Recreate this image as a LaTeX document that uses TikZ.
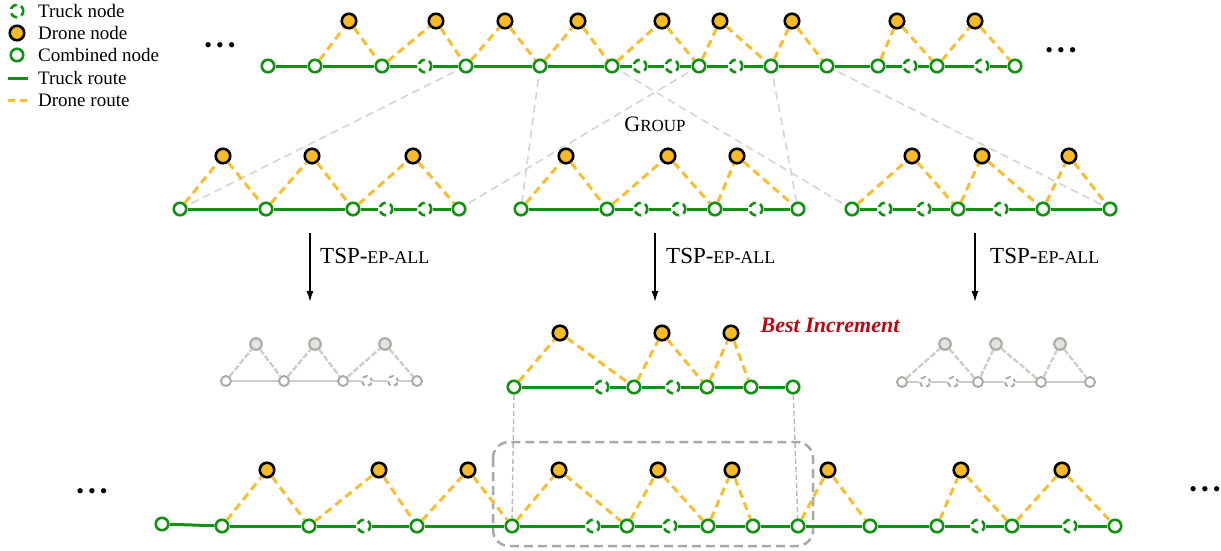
\documentclass[tikz,border=0pt]{standalone}
\usepackage{fontspec}
\setmainfont{Liberation Serif}
\usetikzlibrary{arrows.meta,backgrounds}

\definecolor{tgreen}{RGB}{18,146,18}
\definecolor{dfill}{RGB}{247,187,40}
\definecolor{dline}{RGB}{247,190,50}
\definecolor{glink}{RGB}{214,214,214}
\definecolor{fborder}{RGB}{172,172,166}
\definecolor{fline}{RGB}{206,206,200}
\definecolor{fdfill}{RGB}{228,228,225}
\definecolor{boxgray}{RGB}{168,168,168}
\definecolor{bestred}{RGB}{188,8,20}

\tikzset{
  comb/.style={circle,draw=tgreen,line width=2.6pt,fill=white,minimum size=12.5pt,inner sep=0pt},
  truckn/.style={comb,dash pattern=on 7.5pt off 4.5pt,dash phase=2pt},
  drone/.style={circle,draw=black,line width=2.6pt,fill=dfill,minimum size=14.5pt,inner sep=0pt},
  troute/.style={draw=tgreen,line width=3pt},
  droute/.style={draw=dline,line width=3pt,dash pattern=on 8pt off 5pt},
  fcomb/.style={circle,draw=fborder,line width=2pt,fill=white,minimum size=10pt,inner sep=0pt},
  ftruck/.style={fcomb,dash pattern=on 5pt off 3.5pt,dash phase=1.5pt},
  fdrone/.style={circle,draw=fborder,line width=2.2pt,fill=fdfill,minimum size=11.5pt,inner sep=0pt},
  froute/.style={draw=fline,line width=2.4pt},
  fdroute/.style={draw=fline,line width=2.4pt,dash pattern=on 6pt off 2pt},
  grouplink/.style={draw=glink,line width=1.7pt,dash pattern=on 8pt off 5pt},
  keeplink/.style={draw=boxgray!80,line width=1.4pt,dash pattern=on 5pt off 3pt},
  legtext/.style={anchor=west,inner sep=0pt,font=\fontsize{19}{19}\selectfont},
  dots/.style={inner sep=0pt,font=\fontsize{22}{22}\selectfont},
  steparrow/.style={-{Latex[length=11pt,width=7pt]},line width=1.5pt,draw=black},
  steplabel/.style={anchor=west,inner sep=0pt},
}

\newcommand{\tspname}{{\fontsize{23}{23}\selectfont TSP-}{\fontsize{18}{18}\selectfont EP-ALL}}
\newcommand{\threedots}{\textbullet\hspace{4pt}\textbullet\hspace{4pt}\textbullet}

\begin{document}
\begin{tikzpicture}[x=1pt,y=-1pt]
\useasboundingbox (0,0) rectangle (1221,550);

% ---------- legend ----------
\node[truckn] (lg1) at (17,11) {};
\node[drone]  (lg2) at (17,33) {};
\node[comb]   (lg3) at (17,55) {};
\coordinate (lg4a) at (8,78);  \coordinate (lg4b) at (28,78);
\coordinate (lg5a) at (8,100); \coordinate (lg5b) at (29,100);
\draw[troute] (lg4a) -- (lg4b);
\draw[droute,dash pattern=on 7pt off 5pt] (lg5a) -- (lg5b);
\node[legtext] (lt1) at (38,11) {Truck node};
\node[legtext] (lt2) at (38,33) {Drone node};
\node[legtext] (lt3) at (38,55) {Combined node};
\node[legtext] (lt4) at (38,78) {Truck route};
\node[legtext] (lt5) at (38,100) {Drone route};

% ---------- full route (top) ----------
\foreach \x/\s [count=\i] in {268/comb,315/comb,382/comb,425/truckn,466/comb,540/comb,
  612/comb,640/truckn,672/truckn,699/comb,736/truckn,771/comb,827/comb,878/comb,
  910/truckn,937/comb,982/truckn,1015/comb}
  \node[\s] (A\i) at (\x,66) {};
\foreach \i in {1,...,17} {
  \pgfmathtruncatemacro\j{\i+1}
  \draw[troute] (A\i) -- (A\j);
}
\foreach \x/\a/\b [count=\k] in {349/2/3,436/3/5,505/5/6,578/6/7,662/7/10,
  720/10/12,792/12/13,897/14/16,975/16/18} {
  \node[drone] (AD\k) at (\x,21) {};
  \draw[droute] (A\a) -- (AD\k) -- (A\b);
}
\node[dots] (dotsA) at (220,48) {\threedots};
\node[dots] (dotsB) at (1061,53) {\threedots};

% ---------- groups ----------
\foreach \x/\s [count=\i] in {180/comb,266/comb,353/comb,386/truckn,425/truckn,459/comb}
  \node[\s] (B\i) at (\x,209) {};
\foreach \i in {1,...,5} {\pgfmathtruncatemacro\j{\i+1}\draw[troute] (B\i) -- (B\j);}
\foreach \x/\a/\b [count=\k] in {223/1/2,312/2/3,413/3/6} {
  \node[drone] (BD\k) at (\x,156) {};
  \draw[droute] (B\a) -- (BD\k) -- (B\b);
}

\foreach \x/\s [count=\i] in {521/comb,607/comb,641/truckn,679/truckn,715/comb,756/truckn,798/comb}
  \node[\s] (C\i) at (\x,209) {};
\foreach \i in {1,...,6} {\pgfmathtruncatemacro\j{\i+1}\draw[troute] (C\i) -- (C\j);}
\foreach \x/\a/\b [count=\k] in {566/1/2,668/2/5,737/5/7} {
  \node[drone] (CD\k) at (\x,156) {};
  \draw[droute] (C\a) -- (CD\k) -- (C\b);
}

\foreach \x/\s [count=\i] in {852/comb,885/truckn,924/truckn,958/comb,1001/truckn,1043/comb,1110/comb}
  \node[\s] (D\i) at (\x,209) {};
\foreach \i in {1,...,6} {\pgfmathtruncatemacro\j{\i+1}\draw[troute] (D\i) -- (D\j);}
\foreach \x/\a/\b [count=\k] in {912/1/4,982/4/6,1069/6/7} {
  \node[drone] (DD\k) at (\x,156) {};
  \draw[droute] (D\a) -- (DD\k) -- (D\b);
}

\node[inner sep=0pt] (grp) at (655,124)
  {{\fontsize{22}{22}\selectfont G}{\fontsize{17}{17}\selectfont ROUP}};

\begin{scope}[on background layer]
  \draw[grouplink] (A5.center) -- (B1.center);
  \draw[grouplink] (A10.center) -- (B6.center);
  \draw[grouplink] (A6.center) -- (C1.center);
  \draw[grouplink] (A12.center) -- (C7.center);
  \draw[grouplink] (A7.center) -- (D1.center);
  \draw[grouplink] (A13.center) -- (D7.center);
\end{scope}

% ---------- per-group optimisation ----------
\foreach \x/\lx [count=\i] in {310/320,655/666,975/990} {
  \coordinate (arS\i) at (\x,233);
  \coordinate (arE\i) at (\x,302);
  \draw[steparrow] (arS\i) -- (arE\i);
  \node[steplabel] (tsp\i) at (\lx,256) {\tspname};
}

% faded left result
\foreach \x/\s [count=\i] in {226/fcomb,284/fcomb,343/fcomb,367/ftruck,393/ftruck,417/fcomb}
  \node[\s] (E\i) at (\x,381) {};
\foreach \i in {1,...,5} {\pgfmathtruncatemacro\j{\i+1}\draw[froute] (E\i) -- (E\j);}
\foreach \x/\a/\b [count=\k] in {256/1/2,315/2/3,385/3/6} {
  \node[fdrone] (ED\k) at (\x,344) {};
  \draw[fdroute] (E\a) -- (ED\k) -- (E\b);
}

% selected result
\foreach \x/\s [count=\i] in {514/comb,602/truckn,634/comb,673/truckn,707/comb,751/comb,793/comb}
  \node[\s] (F\i) at (\x,387) {};
\foreach \i in {1,...,6} {\pgfmathtruncatemacro\j{\i+1}\draw[troute] (F\i) -- (F\j);}
\foreach \x/\a/\b [count=\k] in {560/1/3,662/3/5,731/5/6} {
  \node[drone] (FD\k) at (\x,333) {};
  \draw[droute] (F\a) -- (FD\k) -- (F\b);
}
\node[inner sep=0pt,text=bestred,font=\fontsize{22}{22}\selectfont\bfseries\itshape]
  (best) at (830,325) {Best Increment};

% faded right result
\foreach \x/\s [count=\i] in {902/fcomb,925/ftruck,953/ftruck,978/fcomb,1010/ftruck,1041/fcomb,1090/fcomb}
  \node[\s] (G\i) at (\x,382) {};
\foreach \i in {1,...,6} {\pgfmathtruncatemacro\j{\i+1}\draw[froute] (G\i) -- (G\j);}
\foreach \x/\a/\b [count=\k] in {945/1/4,996/4/6,1060/6/7} {
  \node[fdrone] (GD\k) at (\x,344) {};
  \draw[fdroute] (G\a) -- (GD\k) -- (G\b);
}

% ---------- updated full route (bottom) ----------
\node[comb] (H1) at (162,524) {};
\foreach \x/\s [count=\i from 2] in {222/comb,309/comb,364/truckn,417/comb,512/comb,593/truckn,
  627/comb,670/truckn,708/comb,753/comb,798/comb,870/comb,937/comb,978/truckn,
  1012/comb,1070/truckn,1115/comb}
  \node[\s] (H\i) at (\x,526) {};
\foreach \i in {1,...,17} {\pgfmathtruncatemacro\j{\i+1}\draw[troute] (H\i) -- (H\j);}
\foreach \x/\a/\b [count=\k] in {267/2/3,379/3/5,468/5/6,559/6/8,658/8/10,
  732/10/11,828/12/13,961/14/16,1062/16/18} {
  \node[drone] (HD\k) at (\x,470) {};
  \draw[droute] (H\a) -- (HD\k) -- (H\b);
}
\node[dots] (dotsC) at (92,494) {\threedots};
\node[dots] (dotsD) at (1205,492) {\threedots};

\begin{scope}[on background layer]
  \draw[keeplink] (F1.center) -- (H6.center);
  \draw[keeplink] (F7.center) -- (H12.center);
  \draw[draw=boxgray,line width=2.5pt,dash pattern=on 9pt off 5pt,rounded corners=16pt]
    (493,442) rectangle (813,546);
\end{scope}
\end{tikzpicture}
\end{document}
